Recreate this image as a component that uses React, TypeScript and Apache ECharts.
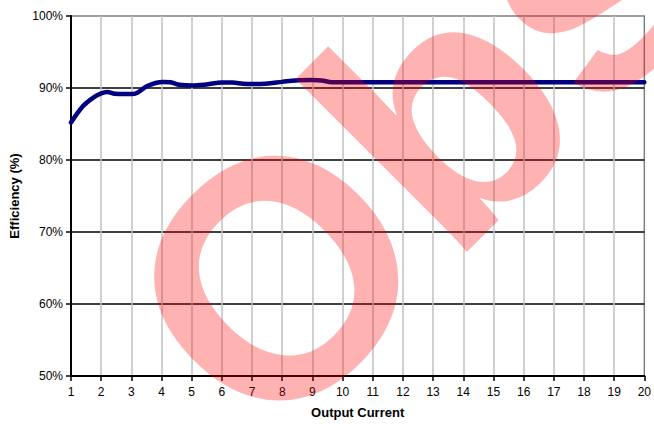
import React, { useEffect, useRef } from "react";
import * as echarts from "echarts";

const currentX: number[] = [1, 1.4, 1.75, 2, 2.2, 2.45, 2.75, 3, 3.2, 3.5, 3.8, 4.05, 4.3, 4.6, 5, 5.5, 6, 6.35, 6.7, 7, 7.45, 8, 8.45, 9, 9.3, 9.65, 10, 11, 12, 13, 14, 15, 16, 17, 18, 19, 20];
const efficiency: number[] = [85.2, 87.5, 88.7, 89.25, 89.45, 89.2, 89.15, 89.15, 89.35, 90.2, 90.7, 90.85, 90.8, 90.45, 90.35, 90.5, 90.75, 90.75, 90.6, 90.55, 90.6, 90.85, 91.05, 91.1, 91.05, 90.8, 90.8, 90.8, 90.8, 90.8, 90.8, 90.8, 90.8, 90.8, 90.8, 90.8, 90.8];
const yTicks: number[] = [50, 60, 70, 80, 90, 100];
const xTickMin = 1;
const xTickMax = 20;
const watermarkText = "Obsolete";

export default function App() {
  const ref = useRef<HTMLDivElement>(null);
  useEffect(() => {
    document.body.style.margin = "0";
    const chart = echarts.init(ref.current!, null, { renderer: "svg" });
    const font = "'Liberation Sans', Arial, sans-serif";
    chart.setOption({
      animation: false,
      backgroundColor: "#ffffff",
      textStyle: { fontFamily: font },
      grid: {
        left: 71,
        right: 7,
        top: 16,
        bottom: 48,
        show: true,
        borderColor: "#808080",
        borderWidth: 1.5,
      },
      xAxis: {
        type: "value",
        min: xTickMin,
        max: xTickMax,
        interval: 1,
        name: "Output Current",
        nameLocation: "middle",
        nameGap: 30,
        nameTextStyle: { fontWeight: "bold", fontSize: 13, color: "#000", fontFamily: font },
        axisLine: { show: true, lineStyle: { color: "#000", width: 2 } },
        axisTick: { show: true, length: 5, lineStyle: { color: "#000", width: 1.5 } },
        axisLabel: { color: "#000", fontSize: 12, margin: 10, fontFamily: font },
        splitLine: { show: true, showMinLine: false, showMaxLine: false, lineStyle: { color: "#c0c0c0", width: 1.5 } },
      },
      yAxis: {
        type: "value",
        min: yTicks[0],
        max: yTicks[yTicks.length - 1],
        interval: 10,
        name: "Efficiency (%)",
        nameLocation: "middle",
        nameGap: 50,
        nameTextStyle: { fontWeight: "bold", fontSize: 13, color: "#000", fontFamily: font },
        axisLine: { show: true, lineStyle: { color: "#000", width: 2 } },
        axisTick: { show: true, length: 5, lineStyle: { color: "#000", width: 1.5 } },
        axisLabel: { color: "#000", fontSize: 12, margin: 8, formatter: "{value}%", fontFamily: font },
        splitLine: { show: true, showMinLine: false, showMaxLine: false, lineStyle: { color: "#000", width: 1.5 } },
      },
      series: [
        {
          type: "line",
          data: currentX.map((x, i) => [x, efficiency[i]]),
          smooth: 0.35,
          showSymbol: false,
          symbol: "none",
          lineStyle: { color: "#000080", width: 4.5, cap: "round", join: "round" },
          z: 5,
        },
      ],
      graphic: [
        {
          type: "text",
          x: 184,
          y: 370,
          rotation: Math.PI / 4,
          z: 100,
          silent: true,
          style: {
            text: watermarkText,
            font: "bold 336px 'Liberation Sans', Arial, sans-serif",
            fill: "rgba(255,0,0,0.3)",
            textAlign: "left",
            textVerticalAlign: "middle",
          },
        },
      ],
    });
    return () => chart.dispose();
  }, []);
  return <div ref={ref} style={{ position: "absolute", left: 0, top: 0, width: 654, height: 424 }} />;
}
